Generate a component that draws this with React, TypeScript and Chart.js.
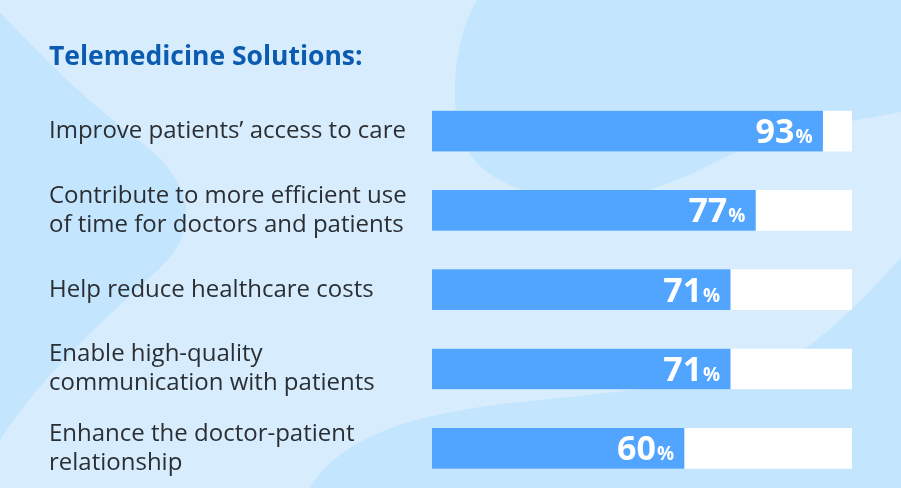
import React, { useEffect, useRef } from 'react';
import { Chart, registerables } from 'chart.js';

Chart.register(...registerables);

const titleText = 'Telemedicine Solutions:';
const categories: string[][] = [
  ['Improve patients’ access to care'],
  ['Contribute to more efficient use', 'of time for doctors and patients'],
  ['Help reduce healthcare costs'],
  ['Enable high-quality', 'communication with patients'],
  ['Enhance the doctor-patient', 'relationship'],
];
const values = [93, 77, 71, 71, 60];
const trackValues = [100, 100, 100, 100, 100];

const backgroundPlugin = {
  id: 'bgBlobs',
  beforeDraw(chart: any) {
    const { ctx, width, height } = chart;
    ctx.save();
    ctx.fillStyle = '#d7edfd';
    ctx.fillRect(0, 0, width, height);
    ctx.fillStyle = '#c3e5fd';
    // left blob
    ctx.beginPath();
    ctx.moveTo(0, 12);
    ctx.bezierCurveTo(40, 55, 90, 105, 145, 145);
    ctx.bezierCurveTo(200, 190, 195, 235, 160, 268);
    ctx.bezierCurveTo(110, 315, 45, 370, 0, 440);
    ctx.closePath();
    ctx.fill();
    // top blob
    ctx.beginPath();
    ctx.moveTo(477, 0);
    ctx.bezierCurveTo(455, 35, 445, 110, 468, 151);
    ctx.bezierCurveTo(490, 190, 560, 205, 610, 198);
    ctx.bezierCurveTo(660, 192, 700, 170, 740, 150);
    ctx.bezierCurveTo(790, 130, 850, 122, 901, 112);
    ctx.lineTo(901, 0);
    ctx.closePath();
    ctx.fill();
    // bottom-right blob
    ctx.beginPath();
    ctx.moveTo(310, 488);
    ctx.bezierCurveTo(340, 440, 400, 415, 520, 402);
    ctx.bezierCurveTo(650, 390, 760, 375, 810, 345);
    ctx.bezierCurveTo(850, 315, 880, 280, 901, 258);
    ctx.lineTo(901, 488);
    ctx.closePath();
    ctx.fill();
    ctx.restore();
  },
};

const valueLabelPlugin = {
  id: 'valueLabels',
  afterDatasetsDraw(chart: any) {
    const { ctx } = chart;
    const meta = chart.getDatasetMeta(0);
    ctx.save();
    ctx.fillStyle = '#ffffff';
    ctx.textBaseline = 'alphabetic';
    ctx.textAlign = 'right';
    meta.data.forEach((bar: any, i: number) => {
      const right = bar.x - 10;
      const base = bar.y + 12;
      ctx.font = 'bold 19px "Open Sans"';
      const pw = ctx.measureText('%').width;
      ctx.fillText('%', right, base);
      ctx.font = 'bold 34px "Open Sans"';
      ctx.fillText(String(values[i]), right - pw - 1, base);
    });
    ctx.restore();
  },
};

export default function App() {
  const canvasRef = useRef<HTMLCanvasElement | null>(null);

  useEffect(() => {
    document.body.style.margin = '0';
    const canvas = canvasRef.current;
    if (!canvas) return;
    const chart = new Chart(canvas, {
      type: 'bar',
      data: {
        labels: categories,
        datasets: [
          {
            label: 'Share',
            data: values,
            backgroundColor: '#52a5ff',
            borderWidth: 0,
            barThickness: 40,
            grouped: false,
            order: 0,
          },
          {
            label: 'Track',
            data: trackValues,
            backgroundColor: '#ffffff',
            borderWidth: 0,
            barThickness: 40,
            grouped: false,
            order: 1,
          },
        ],
      },
      options: {
        indexAxis: 'y',
        responsive: true,
        maintainAspectRatio: false,
        animation: false,
        events: [],
        layout: { padding: { left: 49, right: 49, top: 0, bottom: 0 } },
        plugins: {
          legend: { display: false },
          tooltip: { enabled: false },
          title: {
            display: true,
            text: titleText,
            align: 'start',
            color: '#0b5cb0',
            font: { family: '"Open Sans"', size: 26.5, weight: 'bold', lineHeight: 1.2 },
            padding: { top: 42, bottom: 17.6 },
          },
        },
        scales: {
          x: { display: false, min: 0, max: 100 },
          y: {
            afterFit: (scale: any) => {
              scale.width = 383;
              scale.paddingTop = 0;
              scale.paddingBottom = 0;
            },
            border: { display: false },
            grid: { display: false, drawTicks: false },
            ticks: {
              crossAlign: 'far',
              color: '#2b2f34',
              padding: 0,
              font: { family: '"Open Sans"', size: 24, lineHeight: 1.21 },
            },
          },
        },
      },
      plugins: [backgroundPlugin, valueLabelPlugin],
    });
    return () => chart.destroy();
  }, []);

  return (
    <div style={{ width: 901, height: 488, position: 'relative' }}>
      <canvas ref={canvasRef} />
    </div>
  );
}
